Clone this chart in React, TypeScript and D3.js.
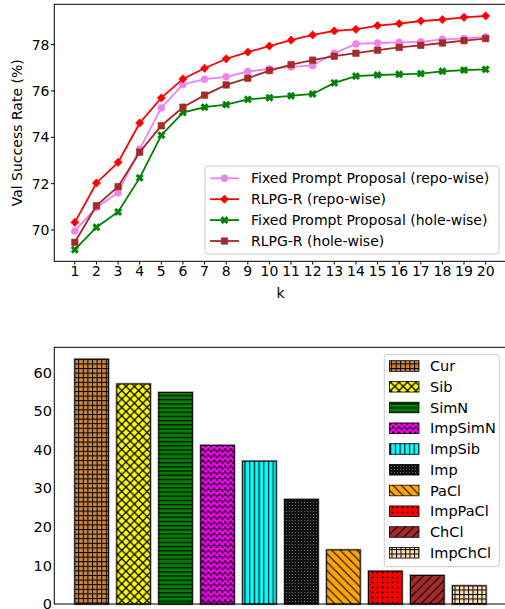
import React from "react";
import * as d3 from "d3";

// ---------- Top chart data ----------
const K = [1, 2, 3, 4, 5, 6, 7, 8, 9, 10, 11, 12, 13, 14, 15, 16, 17, 18, 19, 20];
const fixedRepo = [69.96, 70.97, 71.61, 73.49, 75.27, 76.28, 76.51, 76.61, 76.84, 76.95, 77.04, 77.1, 77.63, 78.03, 78.07, 78.1, 78.12, 78.23, 78.26, 78.33];
const rlpgRepo = [70.33, 72.03, 72.92, 74.62, 75.7, 76.52, 76.98, 77.39, 77.68, 77.94, 78.19, 78.42, 78.59, 78.66, 78.82, 78.91, 79.02, 79.08, 79.18, 79.24];
const fixedHole = [69.15, 70.12, 70.78, 72.25, 74.09, 75.07, 75.3, 75.41, 75.64, 75.71, 75.79, 75.87, 76.35, 76.64, 76.69, 76.72, 76.75, 76.85, 76.9, 76.93];
const rlpgHole = [69.47, 71.05, 71.87, 73.36, 74.5, 75.3, 75.82, 76.26, 76.55, 76.88, 77.14, 77.33, 77.5, 77.63, 77.76, 77.88, 77.97, 78.07, 78.17, 78.26];
const seriesNames = ["Fixed Prompt Proposal (repo-wise)", "RLPG-R (repo-wise)", "Fixed Prompt Proposal (hole-wise)", "RLPG-R (hole-wise)"];
const seriesColors = ["#ee82ee", "#ff0000", "#008000", "#a52a2a"];
const seriesMarkers = ["circle", "diamond", "x", "square"];
const yTicksTop = [70, 72, 74, 76, 78];

// ---------- Bottom chart data ----------
const barNames = ["Cur", "Sib", "SimN", "ImpSimN", "ImpSib", "Imp", "PaCl", "ImpPaCl", "ChCl", "ImpChCl"];
const barValues = [63.4, 57.0, 54.8, 41.1, 37.0, 27.1, 14.0, 8.5, 7.4, 4.7];
const barColors = ["#cd853f", "#ffff00", "#008000", "#ff00ff", "#00ffff", "#111111", "#ffa500", "#ff0000", "#a52a2a", "#ffdead"];
const yTicksBottom = [0, 10, 20, 30, 40, 50, 60];

const FONT = "DejaVu Sans, sans-serif";

function markerPath(kind: string): { d: string; rot: number } {
  if (kind === "circle") return { d: d3.symbol(d3.symbolCircle, 38)() as string, rot: 0 };
  if (kind === "diamond") return { d: d3.symbol(d3.symbolSquare, 34)() as string, rot: 45 };
  if (kind === "x") return { d: d3.symbol(d3.symbolCross, 34)() as string, rot: 45 };
  return { d: d3.symbol(d3.symbolSquare, 42)() as string, rot: 0 };
}

function Patterns() {
  const s = 4.6;
  return (
    <defs>
      <pattern id="p0" patternUnits="userSpaceOnUse" width={s} height={s}>
        <rect width={s} height={s} fill={barColors[0]} />
        <line x1={0.5} y1={0} x2={0.5} y2={s} stroke="#000" strokeWidth={1} />
        <line x1={0} y1={0.5} x2={s} y2={0.5} stroke="#000" strokeWidth={1} />
      </pattern>
      <pattern id="p1" patternUnits="userSpaceOnUse" width={8.4} height={8.4}>
        <rect width={8.4} height={8.4} fill={barColors[1]} />
        <path d="M0,0L8.4,8.4M8.4,0L0,8.4" stroke="#000" strokeWidth={1.3} />
      </pattern>
      <pattern id="p2" patternUnits="userSpaceOnUse" width={8} height={4.2}>
        <rect width={8} height={4.2} fill={barColors[2]} />
        <line x1={0} y1={0.6} x2={8} y2={0.6} stroke="#000" strokeWidth={1.1} />
      </pattern>
      <pattern id="p3" patternUnits="userSpaceOnUse" width={5.6} height={5.6}>
        <rect width={5.6} height={5.6} fill={barColors[3]} />
        <rect x={0} y={0.4} width={2.2} height={2.2} fill="#000" />
        <rect x={2.8} y={3.2} width={2.2} height={1.6} fill="#000" />
        <line x1={0} y1={2.6} x2={5.6} y2={2.6} stroke="#000" strokeWidth={0.6} />
      </pattern>
      <pattern id="p4" patternUnits="userSpaceOnUse" width={4.7} height={8}>
        <rect width={4.7} height={8} fill={barColors[4]} />
        <line x1={0.6} y1={0} x2={0.6} y2={8} stroke="#000" strokeWidth={1.1} />
      </pattern>
      <pattern id="p5" patternUnits="userSpaceOnUse" width={3} height={3}>
        <rect width={3} height={3} fill={barColors[5]} />
        <rect x={1} y={1} width={1} height={1} fill="#666" />
      </pattern>
      <pattern id="p6" patternUnits="userSpaceOnUse" width={8.4} height={8.4}>
        <rect width={8.4} height={8.4} fill={barColors[6]} />
        <path d="M0,0L8.4,8.4M-4.2,4.2L4.2,12.6M4.2,-4.2L12.6,4.2" stroke="#000" strokeWidth={1.1} />
      </pattern>
      <pattern id="p7" patternUnits="userSpaceOnUse" width={5} height={5}>
        <rect width={5} height={5} fill={barColors[7]} />
        <circle cx={2.5} cy={2.5} r={0.9} fill="#000" />
      </pattern>
      <pattern id="p8" patternUnits="userSpaceOnUse" width={8.4} height={8.4}>
        <rect width={8.4} height={8.4} fill={barColors[8]} />
        <path d="M0,8.4L8.4,0M-4.2,4.2L4.2,-4.2M4.2,12.6L12.6,4.2" stroke="#000" strokeWidth={1.1} />
      </pattern>
      <pattern id="p9" patternUnits="userSpaceOnUse" width={4.5} height={4.5}>
        <rect width={4.5} height={4.5} fill={barColors[9]} />
        <line x1={0.5} y1={0} x2={0.5} y2={4.5} stroke="#000" strokeWidth={1} />
        <line x1={0} y1={0.5} x2={4.5} y2={0.5} stroke="#000" strokeWidth={1} />
      </pattern>
    </defs>
  );
}

export default function App() {
  const W = 505, H = 609;
  // Top chart scales
  const xT = d3.scaleLinear().domain([0.05, 20.95]).range([54.3, 506.2]);
  const yT = d3.scaleLinear().domain([68.65, 79.74]).range([261.3, 4.3]);
  const allSeries = [fixedRepo, rlpgRepo, fixedHole, rlpgHole];
  const line = d3.line<number>().x((_, i) => xT(K[i])).y((d) => yT(d));

  // Bottom chart scales
  const idx = barNames.map((_, i) => i);
  const xB = d3.scaleLinear().domain([-0.89, 9.89]).range([54.3, 506.6]);
  const yB = d3.scaleLinear().domain([0, 66.5]).range([604, 347.3]);
  const bw = 0.8;

  return (
    <svg width={W} height={H} style={{ position: "absolute", left: 0, top: 0, background: "#fff" }} fontFamily={FONT}>
      <Patterns />
      <rect width={W} height={H} fill="#fff" />

      {/* ---------- Top chart ---------- */}
      <g>
        {allSeries.map((s, si) => {
          const m = markerPath(seriesMarkers[si]);
          return (
            <g key={si}>
              <path d={line(s) as string} fill="none" stroke={seriesColors[si]} strokeWidth={1.8} />
              {s.map((v, i) => (
                <path key={i} d={m.d} fill={seriesColors[si]} stroke={seriesColors[si]} strokeWidth={0.6}
                  transform={`translate(${xT(K[i])},${yT(v)}) rotate(${m.rot})`} />
              ))}
            </g>
          );
        })}
        <rect x={54.3} y={4.3} width={506.2 - 54.3} height={261.3 - 4.3} fill="none" stroke="#000" strokeWidth={1} />
        {yTicksTop.map((t) => (
          <g key={t}>
            <line x1={51} x2={54.3} y1={yT(t)} y2={yT(t)} stroke="#000" />
            <text x={49.5} y={yT(t)} dy="0.36em" textAnchor="end" fontSize={14}>{t}</text>
          </g>
        ))}
        {K.map((k) => (
          <g key={k}>
            <line x1={xT(k)} x2={xT(k)} y1={261.3} y2={264.5} stroke="#000" />
            <text x={xT(k)} y={275.5} textAnchor="middle" fontSize={14}>{k}</text>
          </g>
        ))}
        <text x={280.5} y={298} textAnchor="middle" fontSize={14}>k</text>
        <text transform={`translate(21.5,${(4.3 + 261.3) / 2}) rotate(-90)`} textAnchor="middle" fontSize={14}>Val Success Rate (%)</text>

        {/* legend */}
        <rect x={205} y={166} width={294} height={88} rx={3} fill="#fff" fillOpacity={0.8} stroke="#cccccc" strokeWidth={1} />
        {seriesNames.map((n, si) => {
          const yy = 178.3 + si * 20.9;
          const m = markerPath(seriesMarkers[si]);
          return (
            <g key={n}>
              <line x1={210} x2={239} y1={yy} y2={yy} stroke={seriesColors[si]} strokeWidth={1.8} />
              <path d={m.d} fill={seriesColors[si]} stroke={seriesColors[si]} strokeWidth={0.6}
                transform={`translate(224.5,${yy}) rotate(${m.rot})`} />
              <text x={251} y={yy} dy="0.36em" fontSize={14}>{n}</text>
            </g>
          );
        })}
      </g>

      {/* ---------- Bottom chart ---------- */}
      <g>
        {idx.map((i) => {
          const x0 = xB(i - bw / 2), x1 = xB(i + bw / 2);
          const y0 = yB(barValues[i]);
          return (
            <g key={i}>
              <rect x={x0} y={y0} width={x1 - x0} height={yB(0) - y0} fill="none" stroke="#aaaaaa" strokeWidth={2.6} />
              <rect x={x0} y={y0} width={x1 - x0} height={yB(0) - y0} fill={`url(#p${i})`} stroke="#000" strokeWidth={1} />
            </g>
          );
        })}
        <rect x={54.3} y={347.3} width={506.6 - 54.3} height={604 - 347.3} fill="none" stroke="#000" strokeWidth={1} />
        {yTicksBottom.map((t) => (
          <text key={t} x={52} y={yB(t)} dy="0.36em" textAnchor="end" fontSize={14.5}>{t}</text>
        ))}

        {/* legend */}
        <rect x={384.3} y={354.3} width={115} height={212.4} rx={3} fill="#fff" fillOpacity={0.8} stroke="#cccccc" strokeWidth={1} />
        {barNames.map((n, i) => {
          const yy = 366 + i * 20.75;
          return (
            <g key={n}>
              <rect x={389.5} y={yy - 5.3} width={29.5} height={10.6} fill={`url(#p${i})`} stroke="#000" strokeWidth={0.8} />
              <text x={430} y={yy} dy="0.36em" fontSize={14.5}>{n}</text>
            </g>
          );
        })}
      </g>
    </svg>
  );
}
